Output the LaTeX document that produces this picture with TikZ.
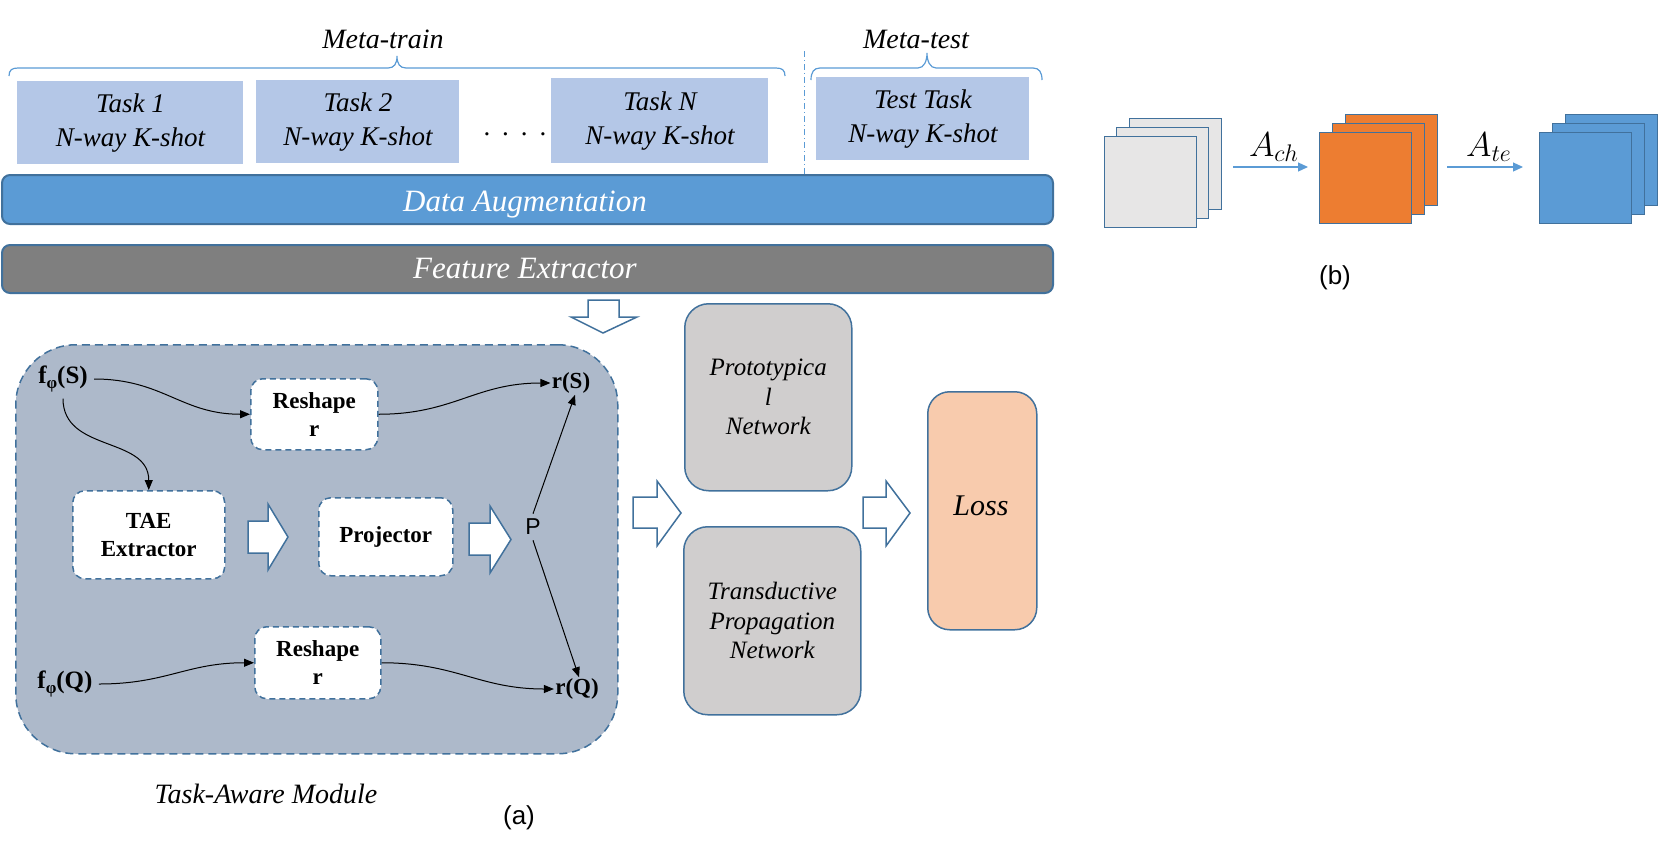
\documentclass[tikz,border=0pt]{standalone}
\usepackage{fontspec}
\setmainfont{Liberation Serif}
\newfontfamily\sansf{Liberation Sans}
\usetikzlibrary{arrows.meta}
\definecolor{bord}{HTML}{41719C}
\definecolor{taskfill}{HTML}{B4C7E7}
\definecolor{daug}{HTML}{5B9BD5}
\definecolor{fext}{HTML}{7F7F7F}
\definecolor{modfill}{HTML}{ADB9CA}
\definecolor{netfill}{HTML}{D0CECE}
\definecolor{lossfill}{HTML}{F8CBAD}
\definecolor{grayfill}{HTML}{E7E6E6}
\definecolor{orangefill}{HTML}{ED7D31}
\begin{document}
\begin{tikzpicture}[x=0.5pt,y=-0.5pt,
  taskbox/.style={fill=taskfill, inner sep=0pt, anchor=north west, align=center,
    font=\fontsize{13.5}{17}\selectfont\itshape},
  bar/.style={draw=bord, line width=1pt, rounded corners=4pt, anchor=north west, inner sep=0pt},
  bartext/.style={anchor=base, text=white, inner sep=0pt, font=\fontsize{15.5}{18}\selectfont\itshape},
  metatext/.style={anchor=base, inner sep=0pt, font=\fontsize{14}{16}\selectfont\itshape},
  module/.style={draw=bord, fill=modfill, line width=0.75pt, dash pattern=on 4pt off 2.5pt,
    rounded corners=30pt, anchor=north west, inner sep=0pt},
  inbox/.style={draw=bord, fill=white, line width=0.75pt, dash pattern=on 3pt off 2pt,
    rounded corners=6pt, inner sep=0pt, anchor=north west, align=center,
    font=\fontsize{11.5}{14}\selectfont\bfseries},
  netbox/.style={draw=bord, fill=netfill, line width=0.75pt, rounded corners=12pt,
    inner sep=0pt, anchor=north west, align=center, font=\fontsize{12.5}{14.75}\selectfont\itshape},
  flab/.style={inner sep=3pt, font=\fontsize{12.5}{14}\selectfont\bfseries},
  rlab/.style={inner sep=0.5pt, font=\fontsize{11.5}{14}\selectfont\bfseries},
  conn/.style={line width=0.5pt, -{Triangle[length=5pt,width=4pt]}},
  blockarrow/.style={draw=bord, fill=white, line width=0.75pt, line join=miter},
  brace/.style={draw=daug, line width=0.6pt},
  sq/.style={draw=bord, line width=0.5pt, minimum width=46pt, minimum height=45.5pt,
    anchor=north west, inner sep=0pt},
  bluearrow/.style={draw=daug, line width=0.6pt, -{Triangle[length=5pt,width=4.5pt]}},
  alab/.style={font=\fontsize{17}{19}\selectfont, inner sep=0pt},
  sublab/.style={font=\sansf\fontsize{13}{15}\selectfont, inner sep=0pt}
]
\useasboundingbox (0,0) rectangle (1676,841);

% ---------- top: meta-train / meta-test ----------
\node[metatext] (mtrain) at (383,48) {Meta-train};
\node[metatext] (mtest) at (916,48) {Meta-test};
\draw[brace] (9,76) .. controls (9,70) and (12,68) .. (18,68) -- (388,68)
  .. controls (394,68) and (397,64) .. (397,56)
  .. controls (397,64) and (400,68) .. (406,68) -- (776,68)
  .. controls (782,68) and (785,70) .. (785,76);
\draw[brace] (811,80) .. controls (811,72) and (814,68) .. (820,68) -- (918,68)
  .. controls (924,68) and (927,61) .. (927,53)
  .. controls (927,61) and (930,68) .. (936,68) -- (1033,68)
  .. controls (1039,68) and (1042,72) .. (1042,80);
\draw[daug, line width=0.5pt, dash pattern=on 3pt off 1.5pt on 0.5pt off 1.5pt] (804,51) -- (804,174);

\node[taskbox, minimum width=113pt, minimum height=41.5pt] (t1) at (17,81) {Task 1\\N-way K-shot};
\node[taskbox, minimum width=101.5pt, minimum height=41.5pt] (t2) at (256,80) {Task 2\\N-way K-shot};
\node[taskbox, minimum width=108.5pt, minimum height=42.5pt] (tn) at (551,78) {Task N\\N-way K-shot};
\node[taskbox, minimum width=106.5pt, minimum height=41.5pt] (tt) at (816,77) {Test Task\\N-way K-shot};
\node[anchor=base, inner sep=0pt, font=\fontsize{13.5}{17}\selectfont] (dots) at (515,135)
  {.\hspace{6pt}.\hspace{6pt}.\hspace{6pt}.};

% ---------- bars ----------
\node[bar, fill=daug, minimum width=525.5pt, minimum height=24.5pt] (dab) at (1,174) {};
\node[bartext] (dat) at (525,211) {Data Augmentation};
\node[bar, fill=fext, minimum width=525.5pt, minimum height=24pt] (feb) at (1,244) {};
\node[bartext] (fet) at (525,278) {Feature Extractor};

% down block arrow
\draw[blockarrow] (588,300) -- (619,300) -- (619,317) -- (637,317) -- (603,333)
  -- (571,317) -- (588,317) -- cycle;

% ---------- task-aware module ----------
\node[module, minimum width=301pt, minimum height=204.5pt] (mod) at (15,344) {};
\node[anchor=base, inner sep=0pt, font=\fontsize{14}{16}\selectfont\itshape] (modlab) at (266,803) {Task-Aware Module};

\node[inbox, minimum width=63.5pt, minimum height=35.5pt] (rs1) at (250,378) {Reshape\\r};
\node[inbox, minimum width=76pt, minimum height=44pt] (tae) at (72,490) {TAE\\Extractor};
\node[inbox, minimum width=67pt, minimum height=39pt] (proj) at (318,497) {Projector};
\node[inbox, minimum width=63pt, minimum height=36pt] (rs2) at (254,626) {Reshape\\r};

\node[flab] (fS) at (63,379) {f\raisebox{-0.45ex}{\fontsize{8.5}{9}\selectfont φ}(S)};
\node[flab] (fQ) at (65,684) {f\raisebox{-0.45ex}{\fontsize{8.5}{9}\selectfont φ}(Q)};
\node[rlab] (rS) at (571,383) {r(S)};
\node[rlab] (rQ) at (577,689) {r(Q)};
\node[inner sep=2.5pt, font=\sansf\fontsize{11.5}{13}\selectfont] (P) at (533,527) {P};

\draw[conn] (fS.east) to[out=0,in=180,looseness=1.1] (rs1.west);
\draw[conn] (rs1.east) to[out=0,in=180,looseness=1.1] (rS.west);
\draw[conn] (fS.south) to[out=-90,in=90,looseness=1.1] (tae.north);
\draw[conn] (fQ.east) to[out=0,in=180,looseness=1.1] (rs2.west);
\draw[conn] (rs2.east) to[out=0,in=180,looseness=1.1] (rQ.west);
\draw[conn] (P.north) -- ([xshift=2pt]rS.south);
\draw[conn] (P.south) -- ([xshift=1pt]rQ.north);

\draw[blockarrow] (248,521) -- (268,521) -- (268,504) -- (288,537) -- (268,570)
  -- (268,553) -- (248,553) -- cycle;
\draw[blockarrow] (469,523) -- (490,523) -- (490,506) -- (511,539.5) -- (490,573)
  -- (490,555) -- (469,555) -- cycle;

\node[sublab] (alab) at (519,818) {(a)};

% ---------- networks and loss ----------
\node[netbox, minimum width=83.5pt, minimum height=93.5pt] (proto) at (684,303) {Prototypica\\l\\Network};
\node[netbox, minimum width=88.5pt, minimum height=94pt] (tpn) at (683,526) {Transductive\\Propagation\\Network};
\node[draw=bord, fill=lossfill, line width=0.75pt, rounded corners=11pt, inner sep=0pt,
  anchor=north west, minimum width=54.5pt, minimum height=119pt] (loss) at (927,391) {};
\node[anchor=base, inner sep=0pt, font=\fontsize{15}{17}\selectfont\itshape] (losst) at (981,515) {Loss};

\draw[blockarrow] (633,497) -- (657,497) -- (657,481) -- (681,513) -- (657,546)
  -- (657,528) -- (633,528) -- cycle;
\draw[blockarrow] (863,497) -- (886,497) -- (886,481) -- (910,513) -- (886,546)
  -- (886,528) -- (863,528) -- cycle;

% ---------- (b) ----------
\node[sq, fill=grayfill] (g3) at (1129,118) {};
\node[sq, fill=grayfill] (g2) at (1116,127) {};
\node[sq, fill=grayfill] (g1) at (1103.5,136) {};
\node[sq, fill=orangefill] (o3) at (1345,114) {};
\node[sq, fill=orangefill] (o2) at (1332,123) {};
\node[sq, fill=orangefill] (o1) at (1319,132) {};
\node[sq, fill=daug] (b3) at (1565,114) {};
\node[sq, fill=daug] (b2) at (1552,123) {};
\node[sq, fill=daug] (b1) at (1539,132) {};

\coordinate (a1s) at (1233,167);
\coordinate (a1e) at (1308,167);
\coordinate (a2s) at (1447,167);
\coordinate (a2e) at (1523,167);
\draw[bluearrow] (a1s) -- (a1e);
\draw[bluearrow] (a2s) -- (a2e);
\node[alab] (ach) at (1274,147) {$A_{ch}$};
\node[alab] (ate) at (1489,147) {$A_{te}$};
\node[sublab] (blab) at (1335,278) {(b)};
\end{tikzpicture}
\end{document}
